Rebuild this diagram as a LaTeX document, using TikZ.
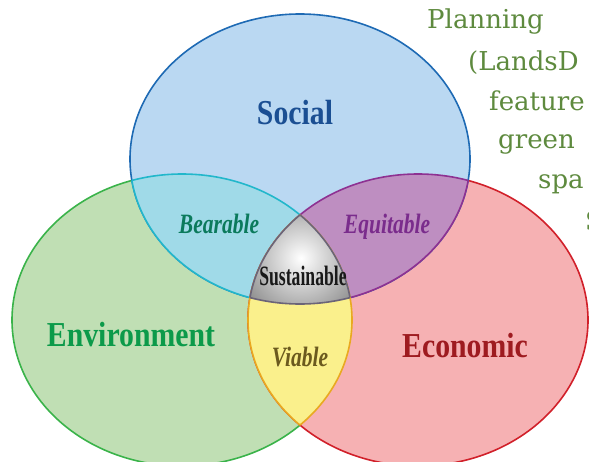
\documentclass[tikz,border=0pt]{standalone}
\usepackage{fontspec}
\setmainfont{Liberation Serif}
\newfontfamily\bigfont[FakeStretch=0.85]{Liberation Serif}
\newfontfamily\midfont[FakeStretch=0.77]{Liberation Serif}
\newfontfamily\susfont[FakeStretch=0.63]{Liberation Serif}
\newfontfamily\sidefont{DejaVu Serif}
\definecolor{socfill}{HTML}{BAD8F2}
\definecolor{socline}{HTML}{1E6AB4}
\definecolor{envfill}{HTML}{C0DFB4}
\definecolor{envline}{HTML}{3AB34A}
\definecolor{ecofill}{HTML}{F6B1B3}
\definecolor{ecoline}{HTML}{D1202A}
\definecolor{bearfill}{HTML}{A0DAE8}
\definecolor{bearline}{HTML}{22B7CB}
\definecolor{equifill}{HTML}{BE8EC1}
\definecolor{equiline}{HTML}{8E3192}
\definecolor{viafill}{HTML}{FAF08C}
\definecolor{vialine}{HTML}{E9A920}
\definecolor{susline}{HTML}{6B6478}
\definecolor{soctext}{HTML}{1B4F93}
\definecolor{envtext}{HTML}{0C9A4A}
\definecolor{ecotext}{HTML}{9E1B20}
\definecolor{beartext}{HTML}{0B7A5C}
\definecolor{equitext}{HTML}{7A2C8C}
\definecolor{viatext}{HTML}{6B5A1E}
\definecolor{sidetext}{HTML}{5E8A3E}
\def\pathSoc{(300,159) ellipse [x radius=170pt, y radius=145pt]}
\def\pathEnv{(182,320) ellipse [x radius=170pt, y radius=146pt]}
\def\pathEco{(418,320) ellipse [x radius=170pt, y radius=146pt]}
\tikzset{
  outl/.style={line width=1.6pt},
  biglabel/.style={inner sep=0pt, anchor=base, font=\bigfont\bfseries\fontsize{35}{40}\selectfont},
  midlabel/.style={inner sep=0pt, anchor=base, font=\midfont\bfseries\itshape\fontsize{28}{32}\selectfont},
  sidelabel/.style={inner sep=0pt, anchor=base west, text=sidetext, font=\sidefont\fontsize{26}{30}\selectfont}
}
\begin{document}
\begin{tikzpicture}[x=1pt,y=-1pt]
\useasboundingbox (0,0) rectangle (589,461);
\clip (0,0) rectangle (589,461);
% base circles
\filldraw[fill=envfill, draw=envline, outl] \pathEnv;
\filldraw[fill=ecofill, draw=ecoline, outl] \pathEco;
\filldraw[fill=socfill, draw=socline, outl] \pathSoc;
% Bearable
\begin{scope}\clip \pathSoc; \fill[bearfill] \pathEnv; \draw[bearline, outl] \pathEnv; \end{scope}
\begin{scope}\clip \pathEnv; \draw[bearline, outl] \pathSoc; \end{scope}
% Equitable
\begin{scope}\clip \pathSoc; \fill[equifill] \pathEco; \draw[equiline, outl] \pathEco; \end{scope}
\begin{scope}\clip \pathEco; \draw[equiline, outl] \pathSoc; \end{scope}
% Viable
\begin{scope}\clip \pathEnv; \fill[viafill] \pathEco; \draw[vialine, outl] \pathEco; \end{scope}
\begin{scope}\clip \pathEco; \draw[vialine, outl] \pathEnv; \end{scope}
% Sustainable
\begin{scope}\clip \pathSoc; \clip \pathEnv; \clip \pathEco;
  \fill[black!42] (250,200) rectangle (360,310);
  \shade[inner color=white, outer color=black!42] (301,258) circle (62pt);
\end{scope}
\begin{scope}\clip \pathSoc; \clip \pathEnv; \draw[susline, outl] \pathEco; \end{scope}
\begin{scope}\clip \pathSoc; \clip \pathEco; \draw[susline, outl] \pathEnv; \end{scope}
\begin{scope}\clip \pathEnv; \clip \pathEco; \draw[susline, outl] \pathSoc; \end{scope}
% labels
\node[biglabel, text=soctext] (social) at (295,124) {Social};
\node[biglabel, text=envtext] (environment) at (131,346) {Environment};
\node[biglabel, text=ecotext] (economic) at (465,357) {Economic};
\node[midlabel, text=beartext] (bearable) at (219,233) {Bearable};
\node[midlabel, text=equitext] (equitable) at (387,233) {Equitable};
\node[inner sep=0pt, anchor=base, font=\susfont\bfseries\fontsize{28}{32}\selectfont, text=black!90] (sustainable) at (303,285) {Sustainable};
\node[midlabel, text=viatext] (viable) at (300,366) {Viable};
% side text
\node[sidelabel] (s1) at (427,28) {Planning};
\node[sidelabel] (s2) at (468,70) {(LandsD};
\node[sidelabel] (s3) at (489,110) {feature};
\node[sidelabel] (s4) at (498,148) {green};
\node[sidelabel] (s5) at (538,188) {spa};
\node[sidelabel] (s6) at (585,230) {S};
\end{tikzpicture}
\end{document}
